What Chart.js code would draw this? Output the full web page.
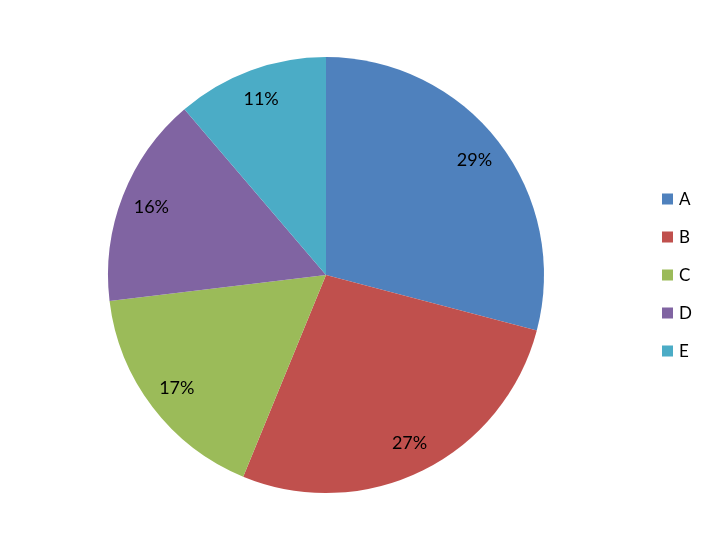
<!DOCTYPE html>
<html>
<head>
<meta charset="utf-8">
<script src="https://cdn.jsdelivr.net/npm/chart.js@4"></script>
<style>
  html, body { margin: 0; padding: 0; background: #fff; }
  #wrap { width: 712px; height: 550px; }
</style>
</head>
<body>
<div id="wrap"><canvas id="pieChart" width="712" height="550"></canvas></div>
<script>
const categories = ['A', 'B', 'C', 'D', 'E'];
const shares = [29.1, 27.1, 16.9, 15.65, 11.25];
const sliceColors = ['#4F81BD', '#C0504D', '#9BBB59', '#8064A2', '#4BACC6'];

const fontFamily = 'Lato, "Open Sans", "Liberation Sans", sans-serif';

// percent labels inside each slice
const sliceLabels = {
    id: 'sliceLabels',
    afterDatasetsDraw(chart) {
        const ctx = chart.ctx;
        const meta = chart.getDatasetMeta(0);
        const total = shares.reduce((a, b) => a + b, 0);
        ctx.save();
        ctx.font = '18px ' + fontFamily;
        ctx.fillStyle = '#000';
        ctx.textAlign = 'center';
        ctx.textBaseline = 'middle';
        meta.data.forEach((arc, i) => {
            const mid = (arc.startAngle + arc.endAngle) / 2;
            const r = arc.outerRadius * 0.86;
            const x = arc.x + Math.cos(mid) * r;
            const y = arc.y + Math.sin(mid) * r;
            ctx.fillText(Math.round(shares[i] / total * 100) + '%', x, y);
        });
        ctx.restore();
    }
};

// legend on the right, like the office chart
const sideLegend = {
    id: 'sideLegend',
    afterDraw(chart) {
        const ctx = chart.ctx;
        const area = chart.chartArea;
        const rowGap = 38;
        const x0 = area.right + 118;
        const y0 = (area.top + area.bottom) / 2 - rowGap * (categories.length - 1) / 2;
        ctx.save();
        ctx.font = '17px ' + fontFamily;
        ctx.textBaseline = 'middle';
        ctx.textAlign = 'left';
        categories.forEach((c, i) => {
            const y = y0 + i * rowGap;
            ctx.fillStyle = sliceColors[i];
            ctx.fillRect(x0, y - 5.5, 11, 11);
            ctx.fillStyle = '#000';
            ctx.fillText(c, x0 + 17, y + 1);
        });
        ctx.restore();
    }
};

new Chart(document.getElementById('pieChart').getContext('2d'), {
    type: 'pie',
    data: {
        labels: categories,
        datasets: [{
            data: shares,
            backgroundColor: sliceColors,
            borderWidth: 0
        }]
    },
    options: {
        responsive: false,
        animation: false,
        layout: {
            padding: { left: 108, right: 168, top: 57, bottom: 57 }
        },
        plugins: {
            legend: { display: false },
            tooltip: { enabled: false }
        }
    },
    plugins: [sliceLabels, sideLegend]
});
</script>
</body>
</html>
